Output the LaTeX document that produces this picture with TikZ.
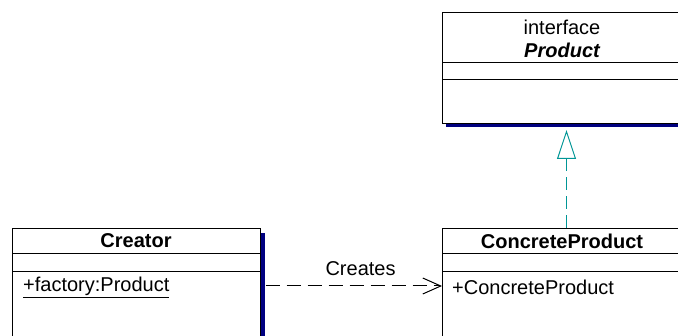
\documentclass[tikz,border=0pt]{standalone}
\usepackage{fontspec}
\setmainfont{Liberation Sans}
\usetikzlibrary{positioning,arrows.meta}
\definecolor{navy}{RGB}{0,0,128}
\definecolor{realize}{RGB}{0,150,150}
\tikzset{
  cls/.style={draw,line width=1pt,fill=white,anchor=north west,inner sep=0pt},
  shadowbar/.style={fill=navy,draw=none},
  divider/.style={line width=1pt},
  title/.style={font=\fontsize{20}{24}\selectfont\bfseries,inner sep=0pt},
  member/.style={font=\fontsize{20}{24}\selectfont,inner sep=0pt,anchor=west},
  plain/.style={font=\fontsize{20}{24}\selectfont,inner sep=0pt},
  dep/.style={line width=1pt,dash pattern=on 14pt off 7pt,-{Straight Barb[length=18pt,width=16pt]}},
  realise/.style={draw=realize,line width=1pt,dash pattern=on 13pt off 6pt,-{Triangle[open,length=29pt,width=19pt,fill=white]}},
}

\begin{document}
\begin{tikzpicture}[x=1pt,y=-1pt]
  \clip (0,0) rectangle (678,336);
  \fill[white] (0,0) rectangle (678,336);
  % shadows
  \fill[shadowbar] (446,123) rectangle (684,127.5);
  \fill[shadowbar] (260,233) rectangle (264.5,340);
  % class boxes
  \node[cls,minimum width=240pt,minimum height=111pt] (prod) at (442,12) {};
  \node[cls,minimum width=248pt,minimum height=120pt] (creator) at (12,228) {};
  \node[cls,minimum width=240pt,minimum height=120pt] (cprod) at (442,228) {};
  % compartments
  \draw[divider] (prod.west |- 0,63) -- (prod.east |- 0,63);
  \draw[divider] (prod.west |- 0,80) -- (prod.east |- 0,80);
  \foreach \yy in {254,272} {
    \draw[divider] (creator.west |- 0,\yy) -- (creator.east |- 0,\yy);
    \draw[divider] (cprod.west |- 0,\yy) -- (cprod.east |- 0,\yy);
  }
  % names and members
  \node[plain] (stereo) at (562,27) {interface};
  \node[title] (prodname) at (562,50) {\itshape Product};
  \node[title] (creatorname) at (136,241) {Creator};
  \node[title] (cprodname) at (562,241) {ConcreteProduct};
  \node[member] (factory) at (23,287) {\underline{+factory:Product}};
  \node[member] (cpop) at (452,287) {+ConcreteProduct};
  % relations
  \draw[dep,shorten <=4.5pt] (creator.east |- 0,286) -- node[plain,pos=0.55,above=10pt] (creates) {Creates} (cprod.west |- 0,286);
  \draw[realise] ([xshift=4pt]cprod.north) -- ([xshift=4pt,yshift=-6pt]prod.south);
\end{tikzpicture}
\end{document}
